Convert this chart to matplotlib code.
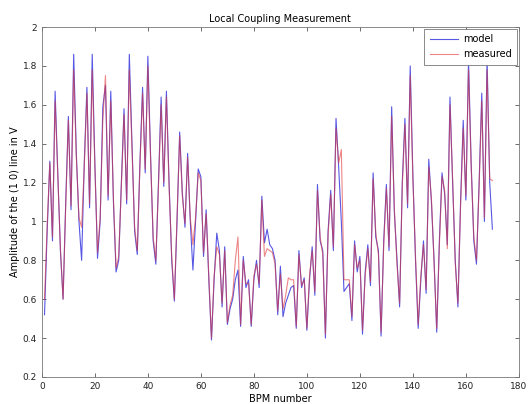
import matplotlib.pyplot as plt
import numpy as np

bpm = np.arange(1, 171)

model = [
    0.52, 0.95, 1.31, 0.90, 1.67, 1.25, 0.85, 0.60, 1.10, 1.54,
    1.06, 1.86, 1.35, 1.00, 0.80, 1.30, 1.69, 1.07, 1.86, 1.30,
    0.81, 1.00, 1.59, 1.70, 1.11, 1.67, 1.10, 0.74, 0.80, 1.20,
    1.58, 1.09, 1.86, 1.40, 0.95, 0.83, 1.30, 1.69, 1.25, 1.85,
    1.35, 0.90, 0.78, 1.20, 1.64, 1.18, 1.67, 1.20, 0.80, 0.59,
    1.00, 1.46, 1.15, 0.97, 1.35, 1.00, 0.75, 1.00, 1.27, 1.23,
    0.82, 1.06, 0.70, 0.39, 0.70, 0.94, 0.85, 0.56, 0.87, 0.47,
    0.55, 0.60, 0.70, 0.75, 0.46, 0.82, 0.66, 0.70, 0.46, 0.70,
    0.80, 0.66, 1.13, 0.89, 0.96, 0.88, 0.86, 0.80, 0.52, 0.77,
    0.51, 0.58, 0.62, 0.66, 0.67, 0.45, 0.85, 0.66, 0.71, 0.44,
    0.70, 0.87, 0.62, 1.19, 0.90, 0.85, 0.40, 0.95, 1.16, 0.85,
    1.53, 1.28, 1.00, 0.64, 0.66, 0.68, 0.49, 0.90, 0.74, 0.82,
    0.42, 0.74, 0.88, 0.67, 1.25, 0.92, 0.85, 0.41, 0.90, 1.19,
    0.85, 1.59, 1.05, 0.80, 0.56, 1.20, 1.53, 1.07, 1.80, 1.24,
    0.80, 0.45, 0.70, 0.90, 0.63, 1.32, 1.10, 0.80, 0.43, 0.90,
    1.25, 1.14, 0.88, 1.64, 1.20, 0.80, 0.56, 1.10, 1.52, 1.11,
    1.83, 1.30, 0.90, 0.78, 1.20, 1.66, 1.00, 1.84, 1.20, 0.96,
]

measured = [
    0.60, 0.98, 1.30, 0.92, 1.62, 1.24, 0.86, 0.60, 1.08, 1.52,
    1.08, 1.78, 1.33, 1.02, 0.97, 1.28, 1.66, 1.09, 1.78, 1.28,
    0.84, 1.02, 1.52, 1.75, 1.13, 1.62, 1.12, 0.76, 0.82, 1.18,
    1.55, 1.11, 1.78, 1.38, 0.97, 0.85, 1.28, 1.66, 1.27, 1.80,
    1.33, 0.92, 0.80, 1.18, 1.60, 1.20, 1.64, 1.18, 0.82, 0.60,
    1.02, 1.44, 1.13, 0.99, 1.33, 1.02, 0.88, 1.02, 1.25, 1.21,
    0.84, 1.04, 0.72, 0.40, 0.72, 0.87, 0.83, 0.58, 0.85, 0.48,
    0.57, 0.62, 0.80, 0.92, 0.47, 0.80, 0.68, 0.68, 0.47, 0.72,
    0.78, 0.68, 1.11, 0.82, 0.86, 0.85, 0.84, 0.78, 0.54, 0.73,
    0.55, 0.62, 0.71, 0.70, 0.70, 0.46, 0.83, 0.67, 0.70, 0.45,
    0.72, 0.85, 0.64, 1.16, 0.92, 0.83, 0.42, 0.93, 1.14, 0.87,
    1.48, 1.30, 1.37, 0.70, 0.70, 0.70, 0.51, 0.88, 0.76, 0.80,
    0.44, 0.72, 0.86, 0.69, 1.22, 0.94, 0.83, 0.43, 0.88, 1.17,
    0.87, 1.54, 1.07, 0.78, 0.58, 1.18, 1.50, 1.09, 1.75, 1.22,
    0.82, 0.47, 0.72, 0.88, 0.65, 1.28, 1.12, 0.78, 0.45, 0.88,
    1.23, 1.16, 0.86, 1.60, 1.22, 0.78, 0.58, 1.08, 1.48, 1.13,
    1.78, 1.28, 0.92, 0.80, 1.18, 1.62, 1.02, 1.78, 1.22, 1.21,
]

fig = plt.figure(figsize=(5.3, 4.04), dpi=100)
ax = fig.add_axes([0.079, 0.067, 0.90, 0.866])

ax.plot(bpm, model, color='#3a3ae0', lw=0.8, alpha=0.85, label='model')
ax.plot(bpm, measured, color='#e03535', lw=0.8, alpha=0.6, label='measured')

ax.set_xlim(0, 180)
ax.set_ylim(0.2, 2)
ax.set_xticks(np.arange(0, 181, 20))
ax.set_yticks(np.arange(0.2, 2.01, 0.2))
ax.set_yticklabels(['0.2', '0.4', '0.6', '0.8', '1', '1.2', '1.4', '1.6', '1.8', '2'])

ax.tick_params(direction='in', top=True, right=True, labelsize=6.5,
               length=3, width=0.6, colors='#555555', labelcolor='#222222')
for s in ax.spines.values():
    s.set_linewidth(0.6)
    s.set_color('#777777')

ax.set_title('Local Coupling Measurement', fontsize=7, pad=4)
ax.set_xlabel('BPM number', fontsize=7, labelpad=2)
ax.set_ylabel('Amplitude of the (1 0) line in V', fontsize=7, labelpad=2)

leg = ax.legend(loc='upper right', bbox_to_anchor=(1.0, 1.0), fontsize=7,
                handlelength=2.9, handletextpad=0.5, borderaxespad=0.15,
                fancybox=False, framealpha=1, borderpad=0.6,
                labelspacing=0.5)
leg.get_frame().set_edgecolor('#777777')
leg.get_frame().set_linewidth(0.6)

fig.savefig('out.png', dpi=100)
